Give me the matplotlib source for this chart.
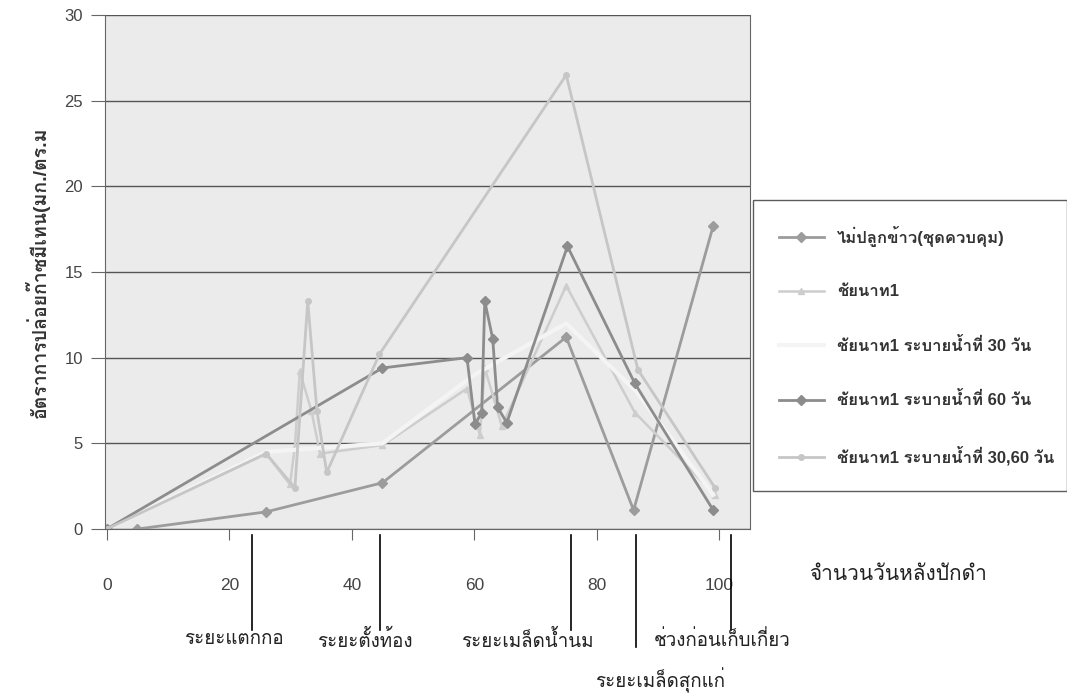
import matplotlib
matplotlib.use('Agg')
import matplotlib.pyplot as plt
import matplotlib.transforms as mtransforms
from matplotlib import font_manager
from matplotlib.ft2font import FT2Font

# days after transplanting and methane emission rate (mg/m2/h)
days_ctrl = [5, 26, 45, 75, 86, 99]
rate_ctrl = [0, 1.0, 2.7, 11.2, 1.1, 17.7]

days_cn1 = [0, 26, 29.9, 30.7, 31.5, 33.4, 34.8, 45, 58.8, 60.9, 61.7, 64.5, 75, 86.2, 99.3]
rate_cn1 = [0, 4.4, 2.6, 4.8, 9.2, 6.9, 4.4, 4.9, 8.2, 5.5, 9.4, 6.0, 14.2, 6.8, 2.0]

days_d30 = [0, 26, 45, 60, 75, 86.5, 99]
rate_d30 = [0, 4.5, 5.0, 9.0, 12.0, 8.0, 2.0]

days_d60 = [0, 45, 58.8, 60.1, 61.2, 61.7, 63, 63.8, 65.3, 75.2, 86.2, 99]
rate_d60 = [0, 9.4, 10.0, 6.1, 6.8, 13.3, 11.1, 7.1, 6.2, 16.5, 8.5, 1.1]

days_d3060 = [0, 26, 30.7, 32.8, 34.3, 35.9, 44.5, 75, 86.7, 99.3]
rate_d3060 = [0, 4.4, 2.4, 13.3, 6.9, 3.3, 10.2, 26.5, 9.3, 2.4]

series_names = ['ไม่ปลูกข้าว(ชุดควบคุม)', 'ชัยนาท1', 'ชัยนาท1 ระบายน้ำที่ 30 วัน',
                'ชัยนาท1 ระบายน้ำที่ 60 วัน', 'ชัยนาท1 ระบายน้ำที่ 30,60 วัน']

stage_days = [23.7, 44.6, 75.8, 86.4, 101.9]
stage_names = ['ระยะแตกกอ', 'ระยะตั้งท้อง', 'ระยะเมล็ดน้ำนม', 'ระยะเมล็ดสุกแก่', 'ช่วงก่อนเก็บเกี่ยว']


def find_thai_font():
    for f in font_manager.fontManager.ttflist:
        try:
            if ord('ก') in FT2Font(f.fname).get_charmap():
                return f.name
        except Exception:
            pass
    return None


thai = find_thai_font()
families = ['Liberation Sans']
if thai:
    families.append(thai)
families.append('DejaVu Sans')
plt.rcParams['font.family'] = families

fig = plt.figure(figsize=(10.67, 6.98), dpi=100)
ax = fig.add_axes([0.0984, 0.2421, 0.6045, 0.7364])
ax.set_facecolor('#ebebeb')

ax.plot(days_ctrl, rate_ctrl, color='#9c9c9c', lw=2, marker='D', ms=5, label=series_names[0])
ax.plot(days_cn1, rate_cn1, color='#cdcdcd', lw=1.8, marker='^', ms=4, label=series_names[1])
ax.plot(days_d30, rate_d30, color='#f4f4f4', lw=3, label=series_names[2])
ax.plot(days_d60, rate_d60, color='#8c8c8c', lw=2, marker='D', ms=5, label=series_names[3])
ax.plot(days_d3060, rate_d3060, color='#c6c6c6', lw=2, marker='o', ms=4, label=series_names[4])

ax.set_xlim(-0.3, 105)
ax.set_ylim(0, 30)
ax.set_yticks(range(0, 31, 5))
ax.set_xticks(range(0, 101, 20))
ax.yaxis.grid(True, color='#555555', lw=1)
ax.set_axisbelow(True)
for s in ['left', 'bottom', 'right']:
    ax.spines[s].set_color('#666666')
ax.spines['top'].set_visible(False)
ax.tick_params(axis='y', length=10, color='#666666', labelsize=12, pad=6, labelcolor='#444444')
ax.tick_params(axis='x', length=8, color='#666666', labelsize=12.5, pad=27, labelcolor='#444444')
ax.set_ylabel('อัตราการปล่อยก๊าซมีเทน(มก./ตร.ม', fontsize=14, fontweight='bold', color='#333333', labelpad=10)

# growth stage markers under the axis
trans = mtransforms.blended_transform_factory(ax.transData, fig.transFigure)
for d, name in zip(stage_days, stage_names):
    low = 1 - 647 / 698 if name == 'ระยะเมล็ดสุกแก่' else 1 - 630 / 698
    ax.plot([d, d], [1 - 535 / 698, low], transform=trans, color='black', lw=1.2, clip_on=False)

stage_kw = dict(ha='center', va='center', fontsize=13.5, color='#222222')
fig.text(234 / 1067, 1 - 640 / 698, stage_names[0], **stage_kw)
fig.text(365 / 1067, 1 - 640 / 698, stage_names[1], **stage_kw)
fig.text(527 / 1067, 1 - 640 / 698, stage_names[2], **stage_kw)
fig.text(660 / 1067, 1 - 680 / 698, stage_names[3], **stage_kw)
fig.text(722 / 1067, 1 - 640 / 698, stage_names[4], **stage_kw)
fig.text(898 / 1067, 1 - 575 / 698, 'จำนวนวันหลังปักดำ', ha='center', va='center', fontsize=15, color='#222222')

leg = fig.legend(loc='upper left', bbox_to_anchor=(753 / 1067, 1 - 200 / 698, 314 / 1067, 0),
                 mode='expand', frameon=True, fancybox=False, edgecolor='#333333',
                 prop={'size': 12, 'weight': 'bold'}, labelspacing=2.25,
                 handlelength=2.7, borderpad=1.55, borderaxespad=0)
leg.get_frame().set_linewidth(1.0)
for t in leg.get_texts():
    t.set_color('#333333')

fig.savefig('out.png', dpi=100)
